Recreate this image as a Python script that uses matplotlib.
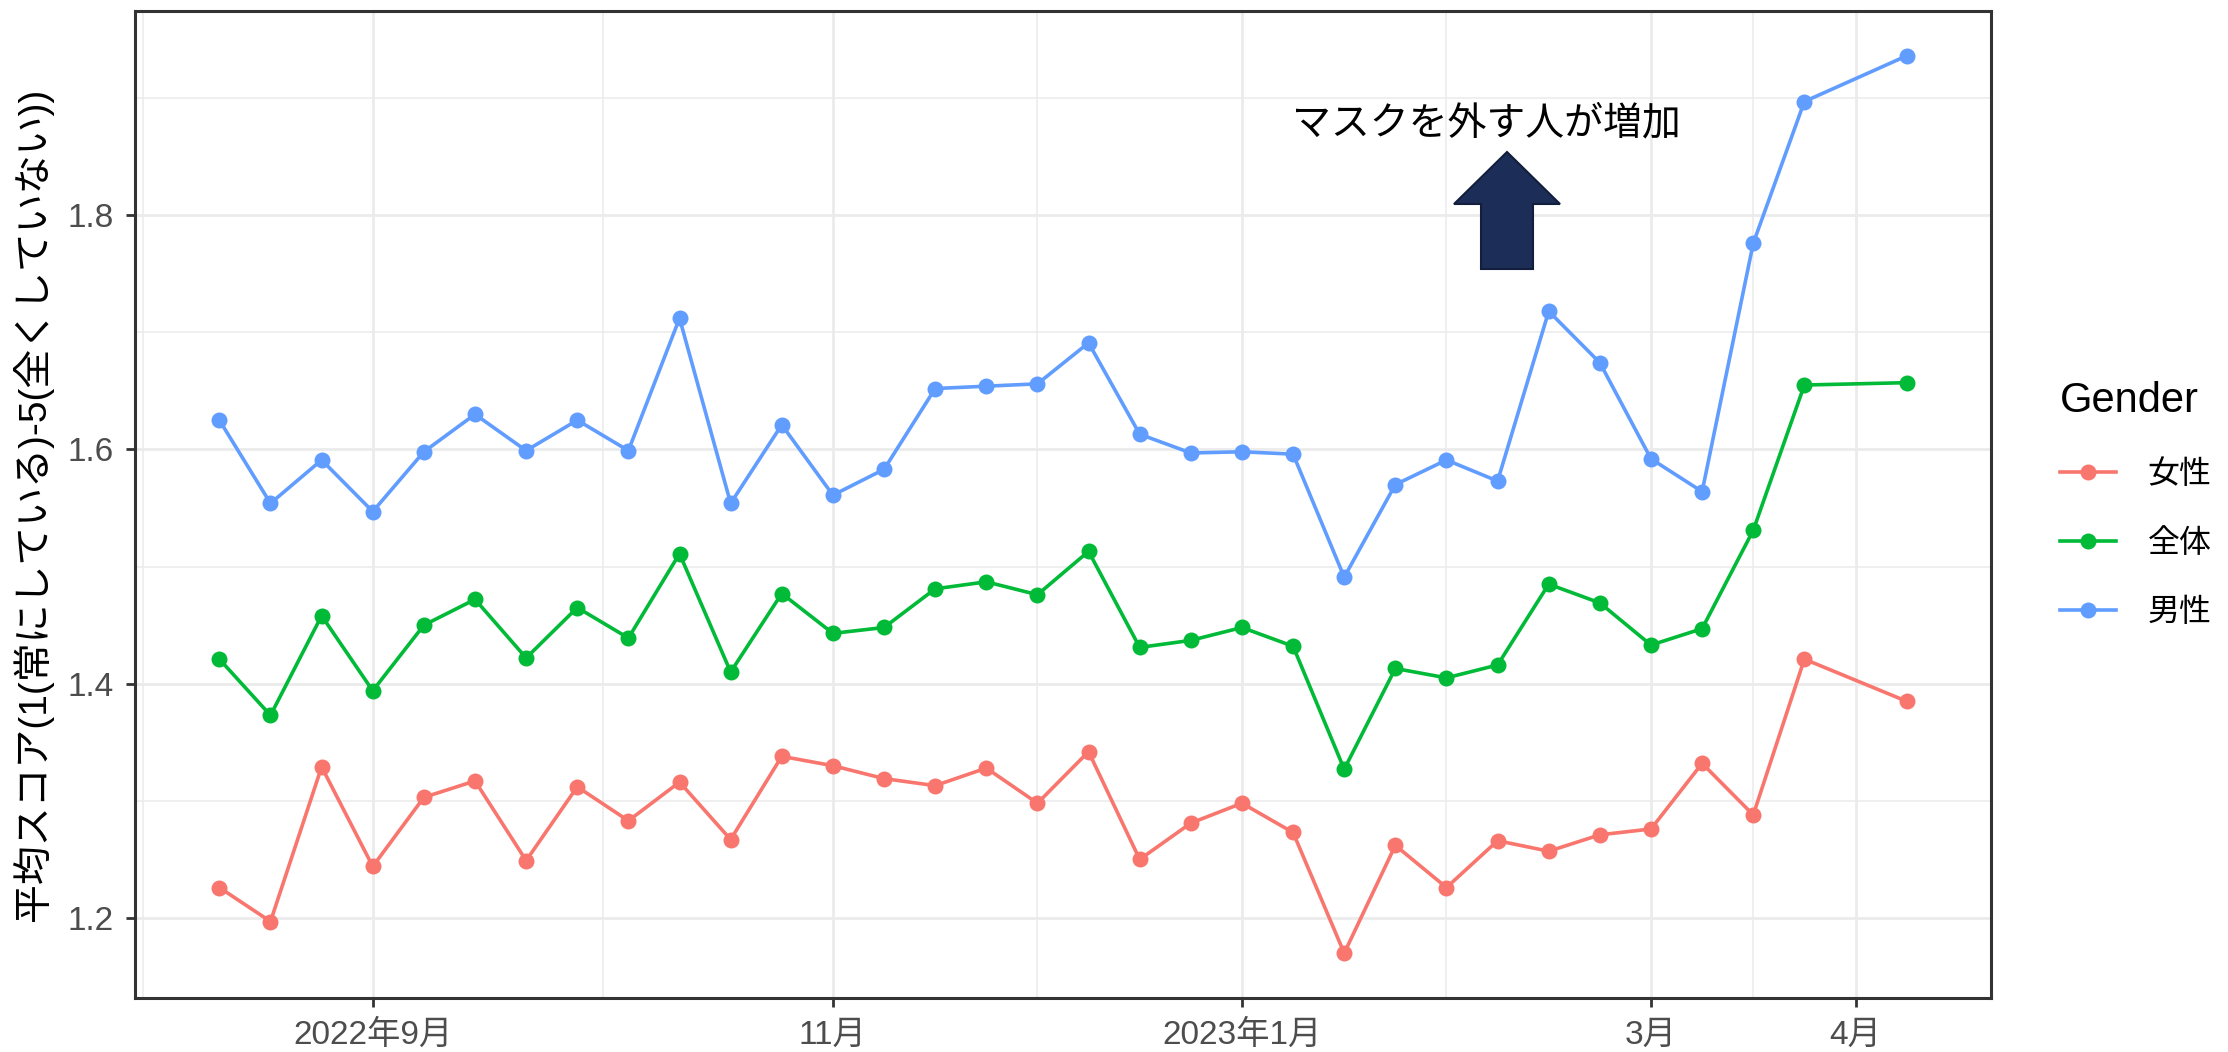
import matplotlib
matplotlib.use('Agg')
import matplotlib.pyplot as plt
from matplotlib.patches import Polygon
from matplotlib.lines import Line2D

plt.rcParams['font.family'] = ['Liberation Sans', 'Noto Sans CJK JP']

# ---------------- data ----------------
weeks = [0, 1, 2, 3, 4, 5, 6, 7, 8, 9, 10, 11, 12, 13, 14, 15, 16, 17, 18, 19,
         20, 21, 22, 23, 24, 25, 26, 27, 28, 29, 30, 31, 33]

female = [1.226, 1.197, 1.329, 1.244, 1.303, 1.317, 1.249, 1.312, 1.283, 1.316,
          1.267, 1.338, 1.330, 1.319, 1.313, 1.328, 1.298, 1.342, 1.250, 1.281,
          1.298, 1.273, 1.170, 1.262, 1.226, 1.266, 1.257, 1.271, 1.276, 1.332,
          1.288, 1.421, 1.385]

overall = [1.421, 1.373, 1.458, 1.394, 1.450, 1.472, 1.422, 1.465, 1.439, 1.511,
           1.410, 1.477, 1.443, 1.448, 1.481, 1.487, 1.476, 1.513, 1.431, 1.437,
           1.448, 1.432, 1.327, 1.413, 1.405, 1.416, 1.485, 1.469, 1.433, 1.447,
           1.531, 1.655, 1.657]

male = [1.625, 1.554, 1.591, 1.547, 1.598, 1.630, 1.599, 1.625, 1.599, 1.712,
        1.554, 1.621, 1.561, 1.583, 1.652, 1.654, 1.656, 1.691, 1.613, 1.597,
        1.598, 1.596, 1.491, 1.570, 1.591, 1.573, 1.718, 1.674, 1.592, 1.564,
        1.776, 1.897, 1.936]

series_names = ['女性', '全体', '男性']
series_values = [female, overall, male]
series_colors = ['#F8766D', '#00BA38', '#619CFF']

x_tick_pos = [3, 12, 20, 28, 32]
x_tick_labels = ['2022年9月', '11月', '2023年1月', '3月', '4月']
y_ticks = [1.2, 1.4, 1.6, 1.8]
y_minor = [1.3, 1.5, 1.7, 1.9]

y_label = '平均スコア(1(常にしている)-5(全くしていない))'
legend_title = 'Gender'
annotation_text = 'マスクを外す人が増加'

# ---------------- figure ----------------
W, H, DPI = 2228, 1052, 100
fig = plt.figure(figsize=(W / DPI, H / DPI), dpi=DPI, facecolor='white')

L, R, T, B = 135, 1991, 11, 998
ax = fig.add_axes([L / W, 1 - B / H, (R - L) / W, (B - T) / H])
ax.set_facecolor('white')

LW, MS = 2.6, 11.5
# lines first, then points (ggplot layer order)
for vals, c in zip(series_values, series_colors):
    ax.plot(weeks, vals, color=c, lw=LW, solid_joinstyle='round', zorder=3)
for vals, c in zip(series_values, series_colors):
    ax.plot(weeks, vals, linestyle='none', marker='o', ms=MS, mew=0,
            color=c, zorder=4)

# limits with ggplot-like 5% expansion
all_vals = female + overall + male
ymin, ymax = min(all_vals), max(all_vals)
yp = 0.05 * (ymax - ymin)
ax.set_ylim(ymin - yp, ymax + yp)
xmin, xmax = min(weeks), max(weeks)
xp = 0.05 * (xmax - xmin)
ax.set_xlim(xmin - xp, xmax + xp)

# ticks
ax.set_xticks(x_tick_pos)
ax.set_xticklabels(x_tick_labels)
ax.set_yticks(y_ticks)
ax.set_yticklabels([f'{v:.1f}' for v in y_ticks])

# minor breaks like ggplot: midpoints between majors (extended one step)
bd = x_tick_pos[1] - x_tick_pos[0]
ext = [x_tick_pos[0] - bd] + x_tick_pos + [x_tick_pos[-1] + bd]
x_minor = [(a + b) / 2 for a, b in zip(ext[:-1], ext[1:])]
x_minor = [m for m in x_minor if xmin - xp < m < xmax + xp]
ax.set_xticks(x_minor, minor=True)
ax.set_yticks(y_minor, minor=True)

ax.tick_params(axis='both', which='major', length=6.5, width=2.0,
               color='#333333', labelsize=24, labelcolor='#4D4D4D', pad=9)
ax.tick_params(axis='both', which='minor', length=0)

ax.grid(which='major', color='#EBEBEB', lw=2.0)
ax.grid(which='minor', color='#EBEBEB', lw=1.1)
ax.set_axisbelow(True)

for s in ax.spines.values():
    s.set_color('#333333')
    s.set_linewidth(2.2)
    s.set_zorder(5)

ax.set_ylabel(y_label, fontsize=28, color='black', va='center', ha='center')
ax.yaxis.set_label_coords(-0.0555, 0.5)

# legend
handles = [Line2D([0], [0], color=c, lw=LW, marker='o', ms=MS, mew=0)
           for c in series_colors]
leg = ax.legend(handles, series_names, title=legend_title, loc='center left',
                bbox_to_anchor=((2060 - L) / (R - L), 0.5), frameon=False,
                fontsize=23, title_fontsize=30, handlelength=1.75,
                handletextpad=1.0, labelspacing=1.22, borderpad=0,
                borderaxespad=0, alignment='left')
for t in leg.get_texts():
    t.set_color('black')

# annotation text and block arrow (figure pixel positions)
fig.text(1486 / W, 1 - 123 / H, annotation_text, fontsize=28,
         color='black', ha='center', va='center',
         family=['Noto Sans CJK JP'])

arrow_px = [(1507, 152), (1560, 204), (1533, 204), (1533, 269),
            (1481, 269), (1481, 204), (1454, 204)]
arrow = Polygon([(x / W, 1 - y / H) for x, y in arrow_px], closed=True,
                transform=fig.transFigure, facecolor='#1c2e57',
                edgecolor='#121e3c', lw=1.5, zorder=10)
fig.patches.append(arrow)

fig.savefig('out.png', dpi=DPI, facecolor='white')
